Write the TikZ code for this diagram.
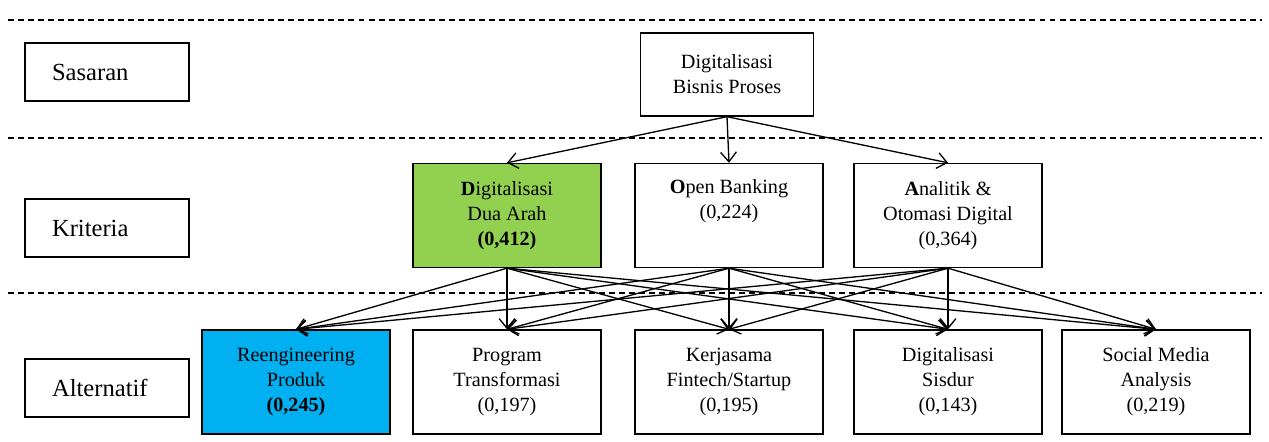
\documentclass[tikz,border=0pt]{standalone}
\usepackage{fontspec}
\setmainfont{Liberation Serif}
\newfontfamily\hurufserif{Liberation Serif}
\usetikzlibrary{arrows.meta}
\definecolor{hijau}{RGB}{146,208,80}
\definecolor{biru}{RGB}{0,176,240}

\begin{document}
\begin{tikzpicture}[x=0.02cm, y=-0.02cm] % 1 satuan = 1 px
\tikzstyle{tingkat} = [draw, line width=0.8pt, minimum width=3.28cm, minimum height=1.16cm, inner xsep=0.54cm, inner ysep=0pt, text width=2.2cm, align=left, font=\hurufserif\fontsize{14}{16}\selectfont] % kotak nama tingkat
\tikzstyle{kotak} = [draw, line width=0.8pt, minimum width=3.76cm, minimum height=2.08cm, inner sep=0pt, align=center, font=\hurufserif\fontsize{11.5}{14.2}\selectfont] % kotak kriteria / alternatif
\tikzstyle{panah} = [line width=0.75pt, -{Straight Barb[length=5.5pt,width=9pt]}] % panah terbuka
\tikzstyle{garis} = [line width=1.1pt, dash pattern=on 3.4pt off 2.3pt] % garis pemisah

\useasboundingbox (0,0) rectangle (1269,442);

% garis pemisah tingkat
\draw[garis] (8,20) -- (1262,20);
\draw[garis] (8,138) -- (1262,138);
\draw[garis] (8,293) -- (1262,293);

% nama tingkat
\node[tingkat] (sasaran) at (107,72) {Sasaran};
\node[tingkat] (kriteria) at (107,228) {Kriteria};
\node[tingkat] (alternatif) at (107,388) {Alternatif};

% sasaran
\node[kotak, minimum width=3.46cm, minimum height=1.66cm] (g) at (727,74.5) {Digitalisasi\\Bisnis Proses};

% kriteria
\node[kotak, fill=hijau] (k1) at (507,215.5) {\textbf{D}igitalisasi\\Dua Arah\\\textbf{(0,412)}};
\node[kotak] (k2) at (729,215.5) {\textbf{O}pen Banking\\(0,224)\\\strut};
\node[kotak] (k3) at (948,215.5) {\textbf{A}nalitik \&\\Otomasi Digital\\(0,364)};

% alternatif
\node[kotak, fill=biru] (a1) at (296,382) {Reengineering\\Produk\\\textbf{(0,245)}};
\node[kotak] (a2) at (507,382) {Program\\Transformasi\\(0,197)};
\node[kotak] (a3) at (729,382) {Kerjasama\\Fintech/Startup\\(0,195)};
\node[kotak] (a4) at (948,382) {Digitalisasi\\Sisdur\\(0,143)};
\node[kotak] (a5) at (1156,382) {Social Media\\Analysis\\(0,219)};

% sasaran -> kriteria
\draw[panah] (g.south) -- (k1.north);
\draw[panah] (g.south) -- (k2.north);
\draw[panah] (g.south) -- (k3.north);

% kriteria -> alternatif
\draw[panah] (k1.south) -- (a1.north);
\draw[panah] (k1.south) -- (a2.north);
\draw[panah] (k1.south) -- (a3.north);
\draw[panah] (k1.south) -- (a4.north);
\draw[panah] (k1.south) -- (a5.north);
\draw[panah] (k2.south) -- (a1.north);
\draw[panah] (k2.south) -- (a2.north);
\draw[panah] (k2.south) -- (a3.north);
\draw[panah] (k2.south) -- (a4.north);
\draw[panah] (k2.south) -- (a5.north);
\draw[panah] (k3.south) -- (a1.north);
\draw[panah] (k3.south) -- (a2.north);
\draw[panah] (k3.south) -- (a3.north);
\draw[panah] (k3.south) -- (a4.north);
\draw[panah] (k3.south) -- (a5.north);
\end{tikzpicture}
\end{document}
